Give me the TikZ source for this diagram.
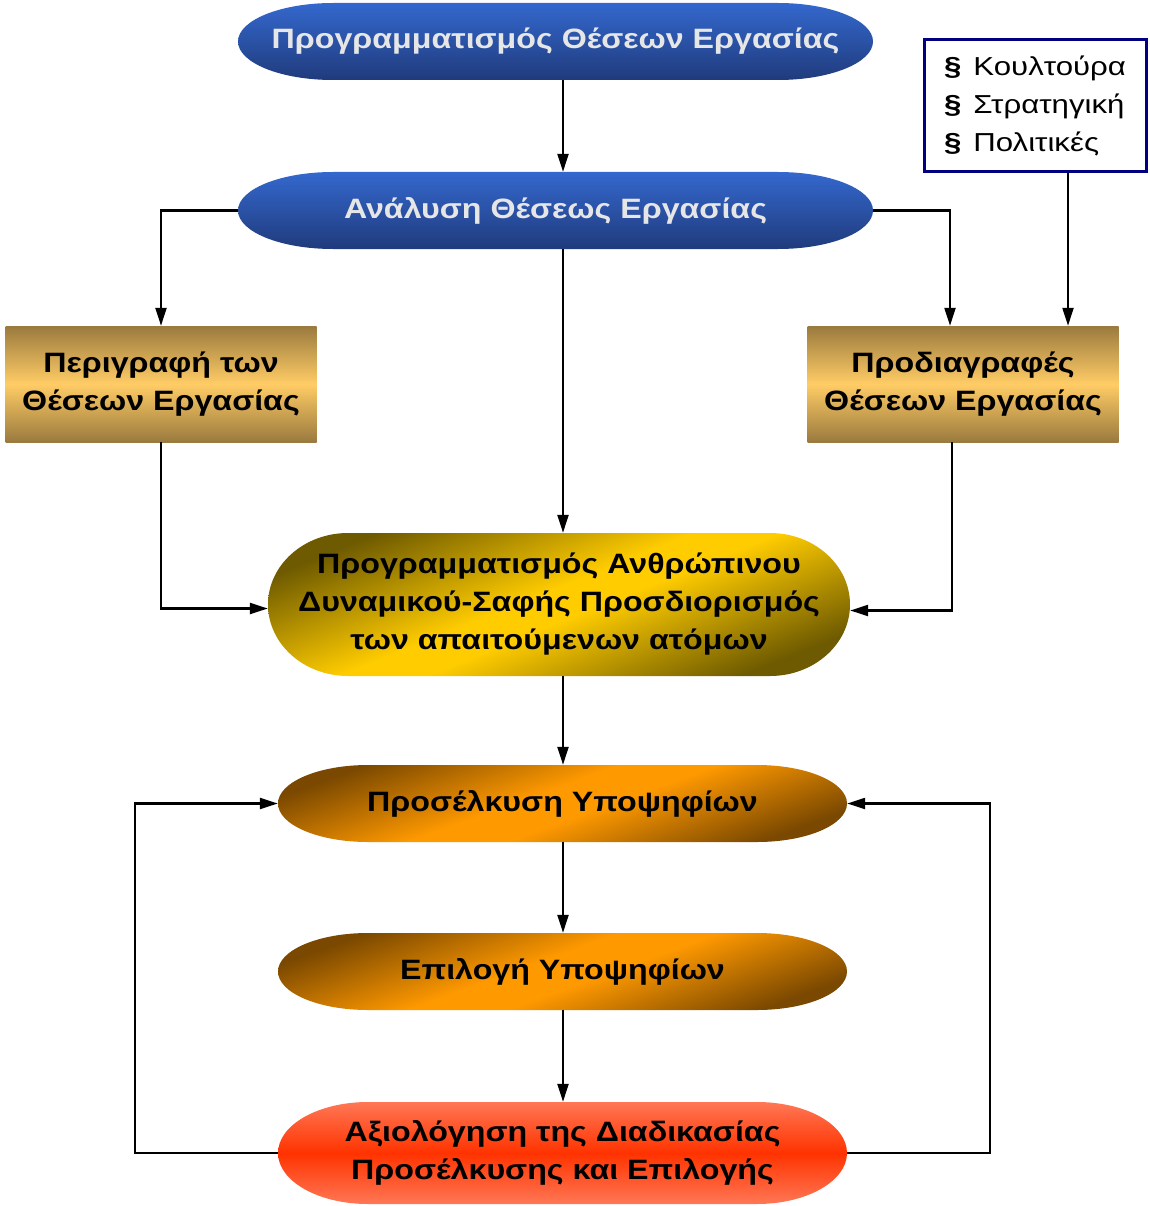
\documentclass[tikz,border=0pt]{standalone}
\usepackage{fontspec}
\setmainfont{Liberation Sans}
\newfontfamily\headfont[FakeStretch=1.15]{Liberation Sans}
\newfontfamily\listfont[FakeStretch=1.2]{Liberation Sans}
\usetikzlibrary{calc,arrows.meta}

\definecolor{btop}{HTML}{3468CE}
\definecolor{bbot}{HTML}{203B7C}
\definecolor{btext}{HTML}{E6E6E6}
\definecolor{gdark}{HTML}{9A7A3E}
\definecolor{glight}{HTML}{FFCC66}
\definecolor{ydark}{HTML}{6E5A00}
\definecolor{ymid}{HTML}{FFCC00}
\definecolor{odark}{HTML}{7A4800}
\definecolor{omid}{HTML}{FF9900}
\definecolor{rlight}{HTML}{FF7755}
\definecolor{rmid}{HTML}{FF3300}
\definecolor{navy}{HTML}{000080}

% diagonal glow: dark at two opposite corners, bright in between
\pgfdeclareverticalshading{yglow}{100bp}{color(0bp)=(ydark); color(25bp)=(ydark); color(47bp)=(ymid); color(53bp)=(ymid); color(75bp)=(ydark); color(100bp)=(ydark)}
\pgfdeclareverticalshading{oglow}{100bp}{color(0bp)=(odark); color(25bp)=(odark); color(46bp)=(omid); color(54bp)=(omid); color(75bp)=(odark); color(100bp)=(odark)}

\tikzset{
  pillbg/.style 2 args={path picture={%
    \shade[#2] let \p1=(path picture bounding box.south west),
                   \p2=(path picture bounding box.north east),
                   \n1={(\y2-\y1)/2} in
      (\x1+#1pt,\y1) -- (\x2-#1pt,\y1)
      arc[start angle=-90,end angle=90,x radius=#1pt,y radius=\n1]
      -- (\x1+#1pt,\y2)
      arc[start angle=90,end angle=270,x radius=#1pt,y radius=\n1] -- cycle;}},
  boldtext/.style={font=\headfont\bfseries\fontsize{28}{38}\selectfont, align=center, inner sep=0pt},
  bluepill/.style={boldtext, pillbg={95}{top color=btop,bottom color=bbot}, text=btext,
                   minimum width=635, minimum height=77},
  goldbox/.style={boldtext, shade, top color=gdark, bottom color=gdark, middle color=glight,
                  minimum width=311, minimum height=116},
  yellowpill/.style={boldtext, pillbg={80}{shading=yglow,shading angle=22},
                     minimum width=582, minimum height=143},
  orangepill/.style={boldtext, pillbg={90}{shading=oglow,shading angle=20},
                     minimum width=569, minimum height=77},
  redpill/.style={boldtext, pillbg={90}{top color=rlight,bottom color=rlight,middle color=rmid},
                  minimum width=569, minimum height=102},
  arr/.style={-{Triangle[length=18pt,width=11pt]}, line width=2.2pt},
}

\begin{document}
\begin{tikzpicture}[x=1pt,y=-1pt]
\useasboundingbox (0,0) rectangle (1149,1206);

\node[bluepill] (plan) at (555.5,41.5) {Προγραμματισμός Θέσεων Εργασίας};
\node[bluepill] (anal) at (555.5,210.5) {Ανάλυση Θέσεως Εργασίας};

\node[draw=navy, line width=3pt, fill=white, minimum width=222, minimum height=132,
      align=left, inner sep=0pt, font=\listfont\fontsize{26}{38}\selectfont] (ctx) at (1035,106)
  {\textbf{§}\hspace{12pt}Κουλτούρα\\ \textbf{§}\hspace{12pt}Στρατηγική\\ \textbf{§}\hspace{12pt}Πολιτικές};

\node[goldbox] (desc) at (161,384) {Περιγραφή των\\Θέσεων Εργασίας};
\node[goldbox] (spec) at (963,384) {Προδιαγραφές\\Θέσεων Εργασίας};

\node[yellowpill] (hrp) at (559,604.5) {Προγραμματισμός Ανθρώπινου\\Δυναμικού-Σαφής Προσδιορισμός\\των απαιτούμενων ατόμων};

\node[orangepill] (attr) at (562.5,803.5) {Προσέλκυση Υποψηφίων};
\node[orangepill] (sel) at (562.5,971.5) {Επιλογή Υποψηφίων};
\node[redpill] (eval) at (562.5,1153) {Αξιολόγηση της Διαδικασίας\\Προσέλκυσης και Επιλογής};

% main flow
\draw[arr] (plan.south -| 563,0) -- (anal.north -| 563,0);
\draw[arr] (anal.west) -| (desc.north);
\draw[arr] (anal.east) -| ([xshift=-13pt]spec.north);
\draw[arr] ([xshift=33pt]ctx.south) -- ([xshift=33pt]ctx.south |- spec.north);
\draw[arr] (anal.south -| 563,0) -- (hrp.north -| 563,0);
\draw[arr] (desc.south) |- ([yshift=-4pt]hrp.west);
\draw[arr] ([xshift=-11pt]spec.south) |- ([yshift=-6pt]hrp.east);
\draw[arr] (hrp.south -| 563,0) -- (attr.north -| 563,0);
\draw[arr] (attr.south -| 563,0) -- (sel.north -| 563,0);
\draw[arr] (sel.south -| 563,0) -- (eval.north -| 563,0);

% feedback loops
\draw[arr] (eval.west) -- ([xshift=-143pt]eval.west) |- (attr.west);
\draw[arr] (eval.east) -- ([xshift=143pt]eval.east) |- (attr.east);
\end{tikzpicture}
\end{document}
